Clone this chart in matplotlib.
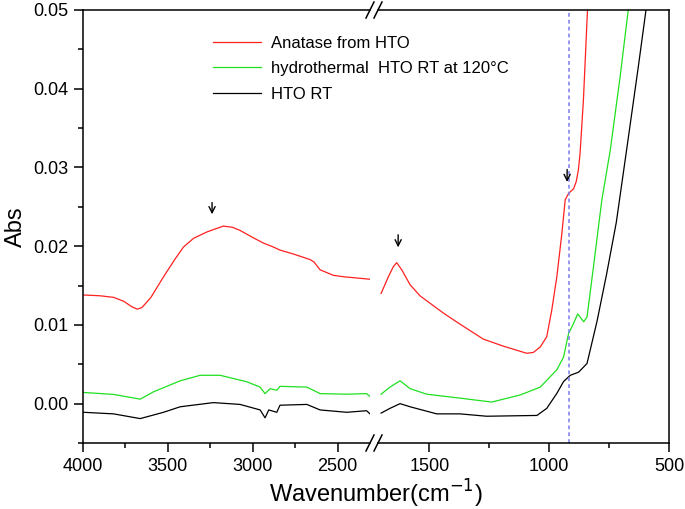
import matplotlib
matplotlib.use("Agg")
import matplotlib.pyplot as plt
from matplotlib.lines import Line2D
from matplotlib.ticker import MultipleLocator, FormatStrFormatter

plt.rcParams['font.family'] = ['Liberation Sans', 'DejaVu Sans']

# ---------------- data ----------------
red_left_wn = [3996, 3900, 3820, 3760, 3712, 3680, 3653, 3600, 3526, 3460, 3408, 3349, 3271, 3220,
               3173, 3120, 3075, 3000, 2938, 2880, 2840, 2760, 2663, 2640, 2604, 2526, 2460, 2408, 2310]
red_left_ab = [0.0138, 0.0137, 0.0135, 0.0130, 0.0123, 0.0120, 0.0122, 0.0135, 0.0161, 0.0183, 0.0199,
               0.0210, 0.0218, 0.0222, 0.02255, 0.0224, 0.0220, 0.0211, 0.0204, 0.0199, 0.0195, 0.0190,
               0.0183, 0.0180, 0.0170, 0.0163, 0.0161, 0.0160, 0.0158]

red_right_wn = [1701, 1671, 1650, 1636, 1615, 1580, 1539, 1441, 1372, 1275, 1191, 1094, 1066, 1037,
                1010, 989, 968, 947, 933, 919, 898, 887, 878, 871, 857, 840, 830]
red_right_ab = [0.0140, 0.0161, 0.0174, 0.0179, 0.0170, 0.0151, 0.0137, 0.0115, 0.0101, 0.0082,
                0.0073, 0.0064, 0.0065, 0.0072, 0.0085, 0.0119, 0.0161, 0.0216, 0.0259, 0.0267,
                0.0273, 0.0282, 0.0297, 0.0318, 0.0386, 0.0500, 0.0560]

green_left_wn = [3996, 3820, 3663, 3585, 3428, 3310, 3192, 3035, 2957, 2928, 2898, 2859, 2840,
                 2682, 2604, 2447, 2330, 2310]
green_left_ab = [0.00142, 0.00117, 0.00057, 0.0015, 0.0029, 0.0036, 0.0036, 0.00277, 0.0021,
                 0.00127, 0.0019, 0.0017, 0.0022, 0.0021, 0.00127, 0.0012, 0.00127, 0.0009]

green_right_wn = [1701, 1664, 1622, 1580, 1511, 1372, 1240, 1200, 1121, 1037, 968, 940, 919, 898,
                  881, 856, 842, 815, 780, 745, 704, 670, 655]
green_right_ab = [0.0012, 0.0021, 0.0029, 0.0019, 0.0012, 0.0007, 0.0002, 0.0005, 0.0011, 0.0021,
                  0.0043, 0.0059, 0.0089, 0.0102, 0.0114, 0.0104, 0.0110, 0.0174, 0.0259, 0.0322,
                  0.0415, 0.0500, 0.0540]

black_left_wn = [3996, 3820, 3663, 3526, 3428, 3232, 3075, 2957, 2928, 2906, 2859, 2840, 2682,
                 2604, 2447, 2330, 2310]
black_left_ab = [-0.0011, -0.0013, -0.0019, -0.0011, -0.0004, 0.00013, -0.0001, -0.0008, -0.0018,
                 -0.0008, -0.0011, -0.0002, -0.0001, -0.0008, -0.0011, -0.0009, -0.0013]

black_right_wn = [1701, 1664, 1622, 1580, 1469, 1372, 1261, 1051, 1010, 968, 940, 912, 877, 842,
                  800, 760, 720, 677, 628, 596, 585]
black_right_ab = [-0.0012, -0.0006, 0.0000, -0.0004, -0.0013, -0.0013, -0.0016, -0.0015, -0.0006,
                  0.0013, 0.0028, 0.0036, 0.0040, 0.0051, 0.0105, 0.0165, 0.0230, 0.0322,
                  0.0428, 0.0500, 0.0525]

labels = ["Anatase from HTO", "hydrothermal  HTO RT at 120\u00b0C", "HTO RT"]
colors = ["#ff2020", "#20e020", "#000000"]

vline_wn = 917
arrows_left = [(3240, 0.0237, 0.0259)]
arrows_right = [(1630, 0.0195, 0.0218), (925, 0.0278, 0.0301)]

# ---------------- figure ----------------
W, H = 685, 509
fig = plt.figure(figsize=(W / 100, H / 100), dpi=100)

ax_l_px = (83, 370)
ax_r_px = (378, 669)
top_px, bot_px = 10, 443

def rect(x0, x1):
    return [x0 / W, 1 - bot_px / H, (x1 - x0) / W, (bot_px - top_px) / H]

axL = fig.add_axes(rect(*ax_l_px))
axR = fig.add_axes(rect(*ax_r_px))
axR.patch.set_alpha(0)

lw = 0.9
axL.plot(red_left_wn, red_left_ab, color=colors[0], lw=lw)
axL.plot(green_left_wn, green_left_ab, color=colors[1], lw=lw)
axL.plot(black_left_wn, black_left_ab, color=colors[2], lw=lw)
axR.plot(red_right_wn, red_right_ab, color=colors[0], lw=lw)
axR.plot(green_right_wn, green_right_ab, color=colors[1], lw=lw)
axR.plot(black_right_wn, black_right_ab, color=colors[2], lw=lw)

axR.axvline(vline_wn, color="#7b7bf0", lw=1.1, ls=(0, (2.5, 2)))

for ax in (axL, axR):
    ax.set_ylim(-0.005, 0.05)
    for s in ax.spines.values():
        s.set_linewidth(1.1)

axL.set_xlim(4000, 2310)
axR.set_xlim(1714, 500)

axL.spines['right'].set_visible(False)
axR.spines['left'].set_visible(False)

axL.xaxis.set_major_locator(MultipleLocator(500))
axL.xaxis.set_minor_locator(MultipleLocator(250))
axR.xaxis.set_major_locator(MultipleLocator(500))
axR.xaxis.set_minor_locator(MultipleLocator(250))
axL.yaxis.set_major_locator(MultipleLocator(0.01))
axL.yaxis.set_minor_locator(MultipleLocator(0.005))
axL.yaxis.set_major_formatter(FormatStrFormatter('%.2f'))

for ax in (axL, axR):
    ax.tick_params(axis='both', which='major', direction='out', length=6.5, width=1.1,
                   labelsize=13, pad=4)
    ax.tick_params(axis='both', which='minor', direction='out', length=3.6, width=1.1)
    ax.tick_params(top=False, right=False, which='both')
axR.tick_params(axis='y', which='both', left=False, labelleft=False)

axL.set_ylabel("Abs", fontsize=17, labelpad=4.5)
fig.text((ax_l_px[0] + ax_r_px[1]) / 2 / W, 1 - 494 / H, "Wavenumber(cm$^{-1}$)",
         ha='center', va='center', fontsize=17)

# arrows
for wn, y0, y1 in arrows_left:
    axL.annotate('', xy=(wn, y0), xytext=(wn, y1),
                 arrowprops=dict(arrowstyle='->', color='black', lw=1.0, mutation_scale=11))
for wn, y0, y1 in arrows_right:
    axR.annotate('', xy=(wn, y0), xytext=(wn, y1),
                 arrowprops=dict(arrowstyle='->', color='black', lw=1.0, mutation_scale=11))

# break marks
for xc in (ax_l_px[1], ax_r_px[0]):
    for yc in (top_px, bot_px):
        fig.add_artist(Line2D([(xc - 4) / W, (xc + 4) / W],
                              [1 - (yc + 8) / H, 1 - (yc - 8) / H],
                              color='black', lw=1.1))

# legend
handles = [Line2D([], [], color=c, lw=lw) for c in colors]
fig.legend(handles, labels, loc='upper left', bbox_to_anchor=(213 / W, 1 - 36 / H),
           frameon=False, fontsize=12, handlelength=2.9, handletextpad=0.6,
           labelspacing=0.62, borderpad=0, borderaxespad=0)

fig.savefig("out.png", dpi=100)
